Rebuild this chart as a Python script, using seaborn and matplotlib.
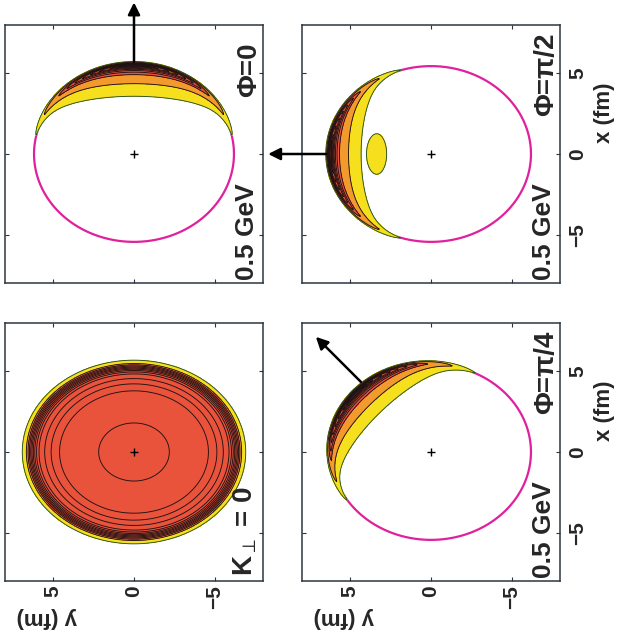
import numpy as np
import matplotlib
matplotlib.use("Agg")
import matplotlib.pyplot as plt
import seaborn as sns

# ---- panel content -------------------------------------------------------
# order: top-left, top-right, bottom-left, bottom-right
panel_labels = ["\u03a6=0", "\u03a6=\u03c0/2", "K$_\\perp$ = 0", "\u03a6=\u03c0/4"]
panel_phi_deg = [0.0, 90.0, None, 45.0]          # emission direction of K_perp
energy_label = "0.5 GeV"
show_energy = [True, True, False, True]

fireball_radii = (5.45, 6.2)    # x, y semi-axes of the freeze-out ellipse (fm)
k0_radii = (6.0, 7.3)           # scale of the K_perp = 0 source (fm)
tick_values = [-5, 0, 5]
axis_limit = 8.0

arrow_start = [5.7, 6.5, None, 6.15]     # radial start of the K_perp arrow (fm)
arrow_end = [9.4, 10.1, None, 10.1]      # radial tip of the K_perp arrow (fm)

# secondary emission island seen for phi = pi/2: (x0, y0, sx, sy, amplitude)
island_pi2 = (0.0, 3.3, 1.3, 0.62, 0.09)

# contour levels, relative to the source maximum
directed_levels = [0.06, 0.14, 0.3, 0.4, 0.5, 0.6, 0.7, 0.8, 0.9, 0.95, 1.01]
isotropic_levels = [0.05, 0.14, 0.2, 0.26, 0.32, 0.38, 0.44, 0.5, 0.56,
                    0.62, 0.7, 0.75, 0.8, 0.955, 1.01]

# ---- style ----------------------------------------------------------------
sns.set_style("ticks")
plt.rcParams["font.family"] = ["Liberation Sans", "DejaVu Sans"]
plt.rcParams["mathtext.fontset"] = "custom"
plt.rcParams["mathtext.rm"] = "Liberation Sans:bold"
plt.rcParams["mathtext.it"] = "Liberation Sans:bold"
plt.rcParams["mathtext.bf"] = "Liberation Sans:bold"

YELLOW = "#f6e01e"
ORANGE = "#f29a2c"
RED = "#e9533c"
MAGENTA = "#e0209c"
FRAME = "#2b3540"
LINE = "#1e1212"


def band_colors(levels):
    return [YELLOW, ORANGE] + [RED] * (len(levels) - 3)


def line_colors(levels):
    return ["#24502c"] + [LINE] * (len(levels) - 2)


# ---- grid in the transverse plane -----------------------------------------
g = np.linspace(-axis_limit, axis_limit, 561)
X, Y = np.meshgrid(g, g, indexing="ij")   # X = x (fm), Y = y (fm)


def exit_length(x, y, c, s, rx, ry):
    """Path length from (x, y) to the ellipse surface along (c, s)."""
    a = c * c / rx**2 + s * s / ry**2
    b = 2 * (x * c / rx**2 + y * s / ry**2)
    cc = x * x / rx**2 + y * y / ry**2 - 1
    disc = np.clip(b * b - 4 * a * cc, 0, None)
    t = (-b + np.sqrt(disc)) / (2 * a)
    return np.clip(t, 0, None)


def directed_source(phi_deg, island=None):
    phi = np.deg2rad(phi_deg)
    c, s = np.cos(phi), np.sin(phi)
    rx, ry = fireball_radii
    u = np.sqrt((X / rx) ** 2 + (Y / ry) ** 2)
    edge = 1.0 / (1.0 + np.exp((u - 1.025) / 0.009))
    t = exit_length(X, Y, c, s, rx, ry)
    opacity = 0.6 * np.exp(-t / 0.25) + 0.4 * np.exp(-t / 2.5)
    flow = np.exp(0.65 * (X * c + Y * s))
    S = edge * opacity * flow
    S = S / S.max()
    if island is not None:
        x0, y0, sx, sy, amp = island
        q2 = ((X - x0) / sx) ** 2 + ((Y - y0) / sy) ** 2
        S = S + amp * np.exp(-q2**2) * edge
    return S


def isotropic_source():
    rx, ry = k0_radii
    u = np.sqrt((X / rx) ** 2 + (Y / ry) ** 2)
    S = (1 - 0.5 * u**2) / (1 + np.exp((u - 0.88) / 0.03))
    return S / S.max()


# ---- figure ---------------------------------------------------------------
W, H = 624, 638
fig = plt.figure(figsize=(W / 100, H / 100), dpi=100)

cols = [5, 302]
rows = [25, 323]
size = 258
positions = [(cols[0], rows[0]), (cols[1], rows[0]), (cols[0], rows[1]), (cols[1], rows[1])]
phi_label_top = [0.934, 0.97, None, 0.97]

theta = np.linspace(0, 2 * np.pi, 400)

for i, (px, py) in enumerate(positions):
    ax = fig.add_axes([px / W, 1 - (py + size) / H, size / W, size / H])
    bottom_row = py == rows[1]
    right_col = px == cols[1]

    phi = panel_phi_deg[i]
    if phi is None:
        S = isotropic_source()
        levels = isotropic_levels
    else:
        S = directed_source(phi, island_pi2 if phi == 90.0 else None)
        levels = directed_levels
        # freeze-out boundary (horizontal axis carries y, vertical carries x)
        sns.lineplot(x=fireball_radii[1] * np.sin(theta),
                     y=fireball_radii[0] * np.cos(theta),
                     sort=False, estimator=None, color=MAGENTA, lw=1.6,
                     ax=ax, zorder=1)

    ax.contourf(Y, X, S, levels=levels, colors=band_colors(levels), zorder=2)
    ax.contour(Y, X, S, levels=levels[:-1], colors=line_colors(levels),
               linewidths=0.65, zorder=3)

    ax.plot([0], [0], marker="+", color="black", ms=6, mew=1.0, zorder=5)

    if phi is not None:
        c, s = np.cos(np.deg2rad(phi)), np.sin(np.deg2rad(phi))
        r0, r1 = arrow_start[i], arrow_end[i]
        ax.annotate("", xy=(r1 * s, r1 * c), xytext=(r0 * s, r0 * c),
                    xycoords="data", textcoords="data", annotation_clip=False,
                    arrowprops=dict(arrowstyle="-|>", color="black", lw=1.8,
                                    mutation_scale=18, shrinkA=0, shrinkB=0),
                    zorder=6)

    ax.set_xlim(axis_limit, -axis_limit)
    ax.set_ylim(-axis_limit, axis_limit)
    ax.set_xticks(tick_values)
    ax.set_yticks(tick_values)
    ax.set_xlabel("")
    ax.set_ylabel("")
    ax.tick_params(direction="in", length=3, width=0.8, color=FRAME,
                   top=True, right=True, bottom=True, left=True,
                   labelbottom=bottom_row, labeltop=False,
                   labelleft=False, labelright=right_col, labelsize=15)
    ax.tick_params(axis="x", pad=3, labelrotation=90)
    ax.tick_params(axis="y", pad=6, labelrotation=90)
    for lab in ax.get_yticklabels():
        lab.set_verticalalignment("center")
    for lab in ax.get_xticklabels() + ax.get_yticklabels():
        lab.set_fontweight("bold")
    for sp in ax.spines.values():
        sp.set_color(FRAME)
        sp.set_linewidth(1.1)

    if phi is None:
        ax.text(0.985, 0.02, panel_labels[i], transform=ax.transAxes,
                rotation=90, ha="right", va="bottom", fontsize=20,
                fontweight="bold")
    else:
        ax.text(0.995, phi_label_top[i], panel_labels[i], transform=ax.transAxes,
                rotation=90, ha="right", va="top", fontsize=20,
                fontweight="bold")
    if show_energy[i]:
        ax.text(0.985, 0.012, energy_label, transform=ax.transAxes,
                rotation=90, ha="right", va="bottom", fontsize=19,
                fontweight="bold")

    if bottom_row:
        ax.text(0.16, -0.14, "y (fm)", transform=ax.transAxes, rotation=180,
                ha="center", va="center", fontsize=16, fontweight="bold")
    if right_col:
        ax.text(1.174, 0.66, "x (fm)", transform=ax.transAxes, rotation=90,
                ha="center", va="center", fontsize=16, fontweight="bold")

fig.savefig("out.png", dpi=100)
